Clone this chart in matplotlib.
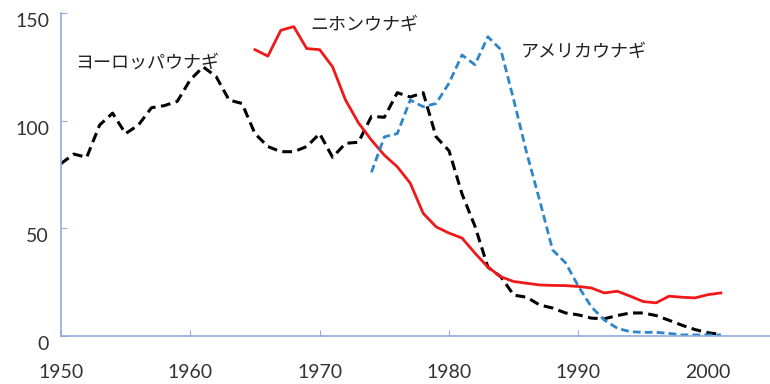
import matplotlib
matplotlib.use("Agg")
import matplotlib.pyplot as plt
import matplotlib.transforms as mtransforms

# European eel (black dashed)
eu_years = list(range(1950, 2002))
eu_vals = [80, 84.5, 83, 98, 103.5, 94, 98, 106, 107, 109,
           119, 125, 120.5, 109.6, 108, 94, 88, 85.6, 85.6, 88,
           94, 83, 89.5, 90, 102, 101.6, 113, 111, 113, 92.5,
           86, 66, 51, 32, 27.5, 19, 18, 14.4, 13, 10.7,
           9.8, 8.3, 8, 9.5, 10.7, 10.7, 9.5, 7.3, 5, 3,
           1.5, 0.8]

# Japanese eel (red solid)
jp_years = list(range(1965, 2002))
jp_vals = [133, 130, 142, 143.7, 133.5, 133, 125, 109.6, 99, 91,
           84, 78.6, 71, 57, 50.7, 47.8, 45.5, 38.5, 32, 27.5,
           25.3, 24.5, 23.7, 23.5, 23.4, 23, 22.3, 20, 20.8, 18.5,
           16, 15.4, 18.5, 18, 17.7, 19.2, 20]

# American eel (blue dashed)
am_years = list(range(1974, 2002))
am_vals = [76, 92.5, 94, 109.6, 106.5, 108, 117.5, 130.5, 126, 139,
           133, 109.6, 85, 63, 40, 34, 23, 13.5, 7.4, 3.6,
           2, 1.7, 1.7, 1.2, 0.5, 0.5, 0.5, 0.5]

labels = ["ヨーロッパウナギ", "ニホンウナギ", "アメリカウナギ"]
label_pos = [(1951.1, 127), (1969.3, 144.5), (1985.5, 132)]

xticks = [1950, 1960, 1970, 1980, 1990, 2000]
yticks = [0, 50, 100, 150]

plt.rcParams['font.family'] = ['Lato', 'Noto Sans CJK JP', 'DejaVu Sans']

fig = plt.figure(figsize=(7.7, 3.84), dpi=100)
ax = fig.add_axes([0.079, 0.125, 0.921, 0.841])

ax.plot(eu_years, eu_vals, color='black', lw=2.2, linestyle=(0, (3.2, 1.8)))
ax.plot(jp_years, jp_vals, color='#f01818', lw=2.0, linestyle='-')
ax.plot(am_years, am_vals, color='#2e86c8', lw=2.0, linestyle=(0, (2.8, 1.5)))

for t, (x, y) in zip(labels, label_pos):
    ax.text(x, y, t, fontsize=13, family=['Noto Sans CJK JP', 'DejaVu Sans'],
            color='#222222', ha='left', va='center')

ax.set_xlim(1950, 2004.8)
ax.set_ylim(0, 150)
ax.set_xticks(xticks)
ax.set_yticks(yticks)
for s in ['top', 'right']:
    ax.spines[s].set_visible(False)
for s in ['left', 'bottom']:
    ax.spines[s].set_color('#8faadc')
    ax.spines[s].set_linewidth(1.2)
ax.tick_params(axis='both', direction='in', length=4, color='#8faadc',
               labelsize=14, labelcolor='#333333')
ax.tick_params(axis='x', pad=20)
ax.tick_params(axis='y', pad=8.5)

off = mtransforms.ScaledTranslation(0, -7 / 100, fig.dpi_scale_trans)
for lab in ax.get_yticklabels():
    lab.set_transform(lab.get_transform() + off)

fig.savefig('out.png', dpi=100)
